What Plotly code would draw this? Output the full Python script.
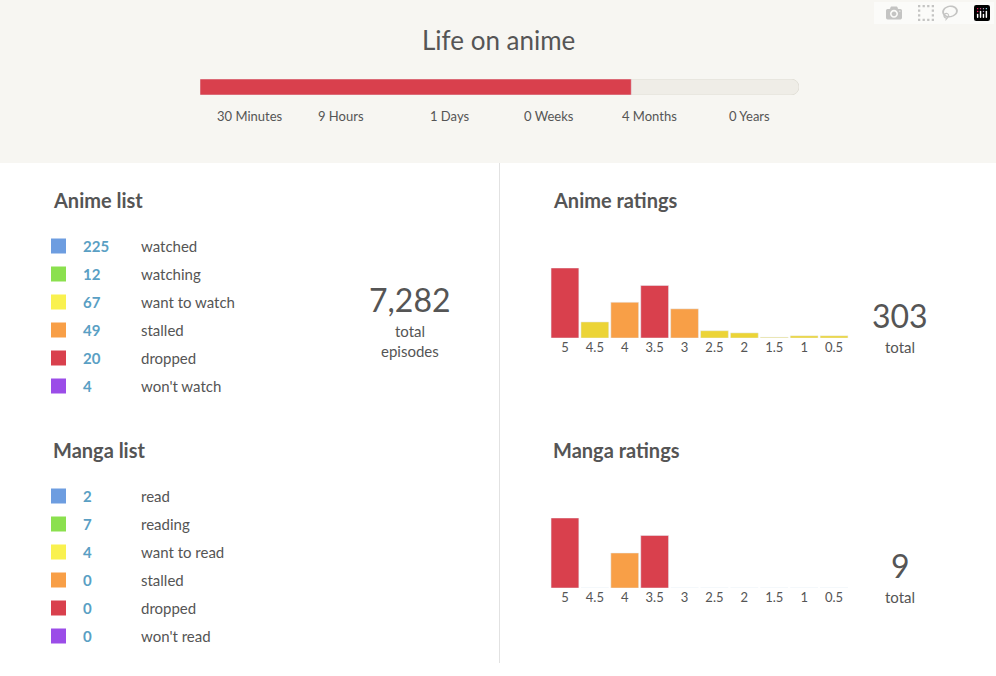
import plotly.graph_objects as go

W, H = 996, 676
title = "Life on anime"
progress_pct = 72
time_labels = ["30 Minutes", "9 Hours", "1 Days", "0 Weeks", "4 Months", "0 Years"]
time_label_x = [249, 341, 449, 549, 649, 749]

status_colors = ["#6d9de0", "#8be04e", "#f9f14f", "#f89f47", "#d9404d", "#9b4de8"]
anime_counts = [225, 12, 67, 49, 20, 4]
anime_labels = ["watched", "watching", "want to watch", "stalled", "dropped", "won't watch"]
manga_counts = [2, 7, 4, 0, 0, 0]
manga_labels = ["read", "reading", "want to read", "stalled", "dropped", "won't read"]
total_episodes = "7,282"

rating_cats = ["5", "4.5", "4", "3.5", "3", "2.5", "2", "1.5", "1", "0.5"]
rating_colors = ["#d9404d", "#ecd436", "#f89f47", "#d9404d", "#f89f47",
                 "#ecd436", "#ecd436", "#ecd436", "#ecd436", "#ecd436"]
anime_ratings = [96, 22, 49, 72, 40, 10, 7, 1, 3, 3]
manga_ratings = [4, 0, 2, 3, 0, 0, 0, 0, 0, 0]

TXT = "#555555"
FONT = "Lato, 'Open Sans', sans-serif"
fig = go.Figure()

# progress bar
fig.add_trace(go.Bar(x=[100], y=[0], orientation="h", width=1, marker=dict(color="#efede7", line=dict(color="#e2e0d8", width=1), cornerradius=8),
                     xaxis="x4", yaxis="y4", hoverinfo="skip"))
fig.add_trace(go.Bar(x=[progress_pct], y=[0], orientation="h", width=1, marker=dict(color="#d9404d", cornerradius=8),
                     xaxis="x4", yaxis="y4", hoverinfo="skip"))

# ratings
fig.add_trace(go.Bar(x=rating_cats, y=anime_ratings, marker=dict(color=rating_colors, cornerradius=0), xaxis="x", yaxis="y"))
fig.add_trace(go.Bar(x=rating_cats, y=manga_ratings, marker=dict(color=rating_colors, cornerradius=0), xaxis="x2", yaxis="y2"))

ann = []
def A(x, y, text, size, bold=False, color=TXT, xanchor="left"):
    ann.append(dict(x=x, y=y, xref="x3", yref="y3", text=f"<b>{text}</b>" if bold else text,
                    showarrow=False, xanchor=xanchor, yanchor="middle",
                    font=dict(size=size, color=color, family=FONT)))

# lists
for top, head, counts, labels in [(246, "Anime list", anime_counts, anime_labels),
                                  (496, "Manga list", manga_counts, manga_labels)]:
    A(51, top - 46, head, 20, bold=True)
    ys = [top + 28 * i for i in range(len(counts))]
    fig.add_trace(go.Scatter(x=[58.5] * len(ys), y=ys, mode="markers",
                             marker=dict(symbol="square", size=15, color=status_colors),
                             xaxis="x3", yaxis="y3", hoverinfo="skip"))
    for yy, c, l in zip(ys, counts, labels):
        A(81, yy, str(c), 15, bold=True, color="#5a9fc4")
        A(139, yy, l, 15)

A(551, 200, "Anime ratings", 20, bold=True)
A(551, 450, "Manga ratings", 20, bold=True)
A(410, 299, total_episodes, 32, xanchor="center")
A(410, 331, "total", 15, xanchor="center")
A(410, 351, "episodes", 15, xanchor="center")
A(900, 315, str(sum(anime_ratings)), 32, xanchor="center")
A(900, 347, "total", 15, xanchor="center")
A(900, 565, str(sum(manga_ratings)), 32, xanchor="center")
A(900, 597, "total", 15, xanchor="center")
A(498, 40, title, 26, xanchor="center")
for x, t in zip(time_label_x, time_labels):
    A(x, 116, t, 13, xanchor="center")

def py(p):
    return 1 - p / H

hid = dict(showgrid=False, zeroline=False, showticklabels=False, fixedrange=True)
fig.update_layout(
    width=W, height=H, margin=dict(l=0, r=0, t=0, b=0),
    paper_bgcolor="white", plot_bgcolor="rgba(0,0,0,0)",
    showlegend=False, barmode="overlay", bargap=0.07, annotations=ann,
    font=dict(family=FONT, color=TXT),
    shapes=[
        dict(type="rect", xref="paper", yref="paper", x0=0, x1=1, y0=py(163), y1=1,
             fillcolor="#f7f6f2", line_width=0, layer="below"),
        dict(type="line", xref="paper", yref="paper", x0=499.5 / W, x1=499.5 / W, y0=py(663), y1=py(163),
             line=dict(color="#e2e2e2", width=1)),
    ],
    xaxis=dict(domain=[550 / W, 849 / W], showgrid=False, zeroline=False, showline=False,
               ticks="", tickfont=dict(size=13, color=TXT), fixedrange=True),
    yaxis=dict(domain=[py(338), py(268)], range=[0, 96], **hid),
    xaxis2=dict(domain=[550 / W, 849 / W], showgrid=False, zeroline=False, showline=False,
                ticks="", tickfont=dict(size=13, color=TXT), fixedrange=True, anchor="y2"),
    yaxis2=dict(domain=[py(588), py(518)], range=[0, 4], anchor="x2", **hid),
    xaxis3=dict(domain=[0, 1], range=[0, W], anchor="y3", **hid),
    yaxis3=dict(domain=[0, 1], range=[H, 0], anchor="x3", **hid),
    xaxis4=dict(domain=[200 / W, 799 / W], range=[0, 100], anchor="y4", **hid),
    yaxis4=dict(domain=[py(95), py(79)], range=[-0.5, 0.5], anchor="x4", **hid),
)
fig.write_html("out.html", post_script="document.body.style.margin='0';document.body.style.overflow='hidden';")
